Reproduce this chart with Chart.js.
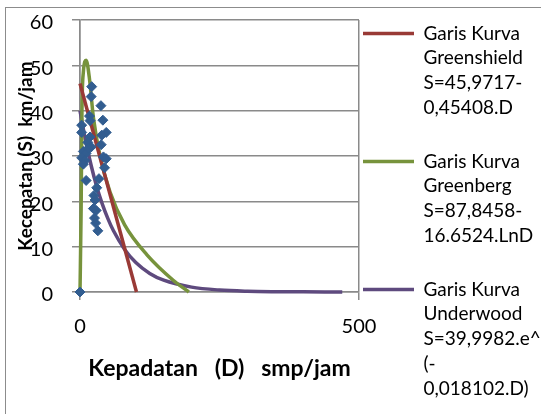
<!DOCTYPE html>
<html><head><meta charset="utf-8">
<script src="https://cdn.jsdelivr.net/npm/chart.js@4.4.1/dist/chart.umd.min.js"></script>
<style>
html,body{margin:0;padding:0;background:#fff;overflow:hidden;width:541px;height:414px;}
#frame{position:absolute;left:5px;top:7px;width:600px;height:500px;border-left:1.5px solid #8c8c8c;border-top:1.5px solid #8c8c8c;}
#c{position:absolute;left:0;top:0;}
</style></head><body>
<div id="frame"></div>
<canvas id="c" width="541" height="414"></canvas>
<script>
// ---- data ----
const xTicks = [0, 500];
const yTicks = [0, 10, 20, 30, 40, 50, 60];
const xTitle = 'Kepadatan   (D)   smp/jam';
const yTitle = 'Kecepatan (S)  km/jam';

const observedD = [21, 20, 37.5, 17, 18, 41, 3, 3, 47, 39, 18, 14, 38, 20, 6, 11, 42, 47, 3, 9, 6, 44, 11, 34, 30, 25, 27, 24, 29, 26, 28, 32, 15, 0];
const observedS = [45.3, 43.1, 41.1, 38.8, 37.8, 37.9, 36.8, 35.2, 35.2, 34.6, 34.2, 33.0, 32.5, 32.0, 31.0, 30.6, 29.8, 29.4, 29.6, 29.0, 28.2, 27.4, 24.6, 25.0, 23.0, 21.3, 20.3, 18.4, 18.0, 16.3, 15.2, 13.5, 31.7, 0];

const greenshieldD = [0, 101.2];
const greenshieldS = [46, 0];

const greenbergD = [0, 2, 3.5, 6, 11, 17, 24, 36, 54, 80, 120, 167, 195];
const greenbergS = [0, 18, 40, 48.5, 51.1, 47, 38.5, 30, 22, 14.8, 8.2, 2.6, 0];

const underwoodD = [0, 10, 20, 30, 40, 50, 60, 80, 100, 125, 150, 200, 250, 300, 350, 400, 470];
const underwoodS = [40.0, 33.4, 27.9, 23.2, 19.4, 16.2, 13.5, 9.4, 6.5, 4.1, 2.6, 1.07, 0.43, 0.17, 0.07, 0.03, 0.01];

const legendTexts = [
  ['Garis Kurva', 'Greenshield', 'S=45,9717-', '0,45408.D', ''],
  ['Garis Kurva', 'Greenberg', 'S=87,8458-', '16.6524.LnD', ''],
  ['Garis Kurva', 'Underwood', 'S=39,9982.e^', '(-', '0,018102.D)']
];
const seriesNames = ['Data', 'Greenshield', 'Greenberg', 'Underwood'];

// ---- styles ----
const pointColor = '#325d90';
const lineColors = ['#993a36', '#77933c', '#5e4a7e'];
const gridColor = '#8a8a8a';

function pairs(xs, ys) { return xs.map((x, i) => ({x: x, y: ys[i]})); }

function draw() {
  const lineDs = (i, xs, ys) => ({
    label: seriesNames[i + 1],
    data: pairs(xs, ys),
    showLine: true,
    borderColor: lineColors[i],
    backgroundColor: lineColors[i],
    borderWidth: 3.5,
    pointRadius: 0,
    pointHoverRadius: 0,
    cubicInterpolationMode: 'monotone',
    clip: false
  });
  new Chart(document.getElementById('c'), {
    type: 'scatter',
    data: {
      datasets: [
        {
          label: seriesNames[0],
          data: pairs(observedD, observedS),
          pointStyle: 'rectRot',
          pointRadius: 5,
          borderWidth: 1,
          backgroundColor: pointColor,
          borderColor: pointColor,
          clip: false
        },
        lineDs(0, greenshieldD, greenshieldS),
        lineDs(1, greenbergD, greenbergS),
        lineDs(2, underwoodD, underwoodS)
      ]
    },
    options: {
      responsive: false,
      animation: false,
      devicePixelRatio: 1,
      events: [],
      layout: {padding: {left: 0, top: 20, right: 0, bottom: 0}},
      scales: {
        x: {
          type: 'linear', min: 0, max: 500,
          afterBuildTicks: s => { s.ticks = xTicks.map(v => ({value: v})); },
          afterFit: s => { s.height = 122; s.paddingLeft = 0; s.paddingRight = 0; },
          grid: {color: gridColor, lineWidth: 1.5, tickLength: 8, drawTicks: true},
          border: {display: true, color: gridColor, width: 1.5},
          ticks: {color: '#000', font: {family: 'Lato', size: 20}, padding: 15, maxRotation: 0, autoSkip: false},
          title: {display: true, text: xTitle, color: '#000', font: {family: 'Lato', size: 23, weight: 'bold'}, padding: {top: 0, bottom: 32}}
        },
        y: {
          type: 'linear', min: 0, max: 60,
          afterBuildTicks: s => { s.ticks = yTicks.map(v => ({value: v})); },
          afterFit: s => { s.width = 80; s.paddingTop = 9; s.paddingBottom = 0; },
          grid: {color: gridColor, lineWidth: 1.5, tickLength: 8, drawTicks: true},
          border: {display: true, color: gridColor, width: 1.5},
          ticks: {color: '#000', font: {family: 'Lato', size: 20}, padding: 19, labelOffset: 3, autoSkip: false},
          title: {display: true, text: yTitle, color: '#000', font: {family: 'Lato', size: 19, weight: 'bold'}, padding: {top: 14, bottom: 0}}
        }
      },
      plugins: {
        tooltip: {enabled: false},
        legend: {
          position: 'right',
          align: 'start',
          fullSize: true,
          maxWidth: 182,
          labels: {
            usePointStyle: true,
            pointStyleWidth: 51,
            padding: 4,
            color: '#000',
            font: {family: 'Lato', size: 19, lineHeight: '24.8px'},
            generateLabels: () => legendTexts.map((t, i) => ({
              text: t,
              fillStyle: lineColors[i],
              strokeStyle: lineColors[i],
              lineWidth: 3.5,
              pointStyle: 'line',
              hidden: false,
              datasetIndex: i + 1,
              fontColor: '#000'
            }))
          }
        }
      }
    }
  });
}

Promise.all([
  document.fonts.load('19px Lato'),
  document.fonts.load('bold 23px Lato')
]).then(draw, draw);
</script>
</body></html>
